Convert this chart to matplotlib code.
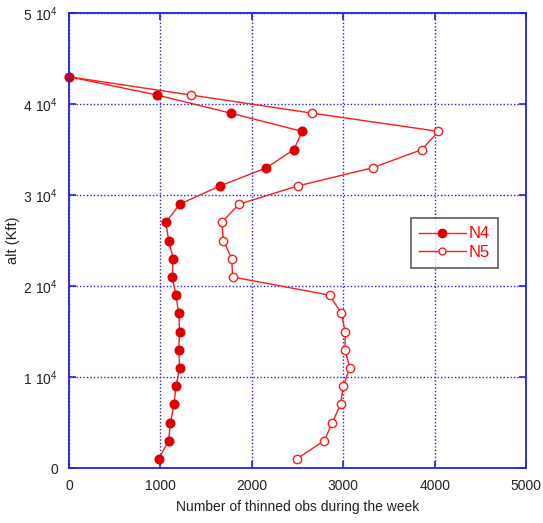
import numpy as np
import matplotlib
matplotlib.use("Agg")
import matplotlib.pyplot as plt

plt.rcParams['font.family'] = ['Liberation Sans', 'DejaVu Sans']
plt.rcParams['mathtext.fontset'] = 'custom'
plt.rcParams['mathtext.rm'] = 'Liberation Sans'

# altitude levels (ft) and weekly counts of thinned obs per level
alt = [1000, 3000, 5000, 7000, 9000, 11000, 13000, 15000, 17000, 19000, 21000,
       23000, 25000, 27000, 29000, 31000, 33000, 35000, 37000, 39000, 41000, 43000]
n4 = [980, 1090, 1110, 1150, 1170, 1210, 1200, 1210, 1200, 1170, 1130,
      1140, 1090, 1060, 1210, 1650, 2160, 2460, 2550, 1770, 960, 0]
n5 = [2490, 2790, 2880, 2970, 3000, 3070, 3020, 3020, 2980, 2850, 1790,
      1780, 1690, 1670, 1860, 2500, 3320, 3860, 4040, 2660, 1330, 0]

xticks = [0, 1000, 2000, 3000, 4000, 5000]
yticks = [0, 10000, 20000, 30000, 40000, 50000]
ylabels = ['0'] + [r'$\mathregular{%d\ 10^4}$' % (v // 10000) for v in yticks[1:]]

blue = '#2424e0'

fig = plt.figure(figsize=(5.43, 5.23), dpi=100)
ax = fig.add_axes([0.127, 0.105, 0.842, 0.870])

ax.plot(n5, alt, color='#ff1a1a', lw=1, marker='o', ms=6,
        mfc='white', mec='#ff1a1a', mew=1, label='N5', clip_on=False, zorder=3)
ax.plot(n4, alt, color='#ff1a1a', lw=1, marker='o', ms=6.2,
        mfc='#dd0000', mec='#dd0000', label='N4', clip_on=False, zorder=4)

ax.set_xlim(0, 5000)
ax.set_ylim(0, 50000)
ax.set_xticks(xticks)
ax.set_yticks(yticks)
ax.set_yticklabels(ylabels)
ax.grid(True, color=blue, ls=(0, (1, 1.5)), lw=1)
for s in ax.spines.values():
    s.set_color(blue)
    s.set_linewidth(1.3)
    s.set_zorder(5)
ax.tick_params(direction='in', color=blue, length=5, width=1.2,
               top=True, right=True, labelsize=10, labelcolor='#222222', pad=8)

ax.set_xlabel('Number of thinned obs during the week', fontsize=10, color='#222222', labelpad=5)
# y label placed by hand near the left edge
fig.text(13 / 543, 0.54, 'alt (Kft)', rotation=90, ha='center', va='center',
         fontsize=10.5, color='#222222')

handles, labels = ax.get_legend_handles_labels()
leg = ax.legend(handles[::-1], labels[::-1], loc='upper left',
                bbox_to_anchor=(0.756, 0.583), bbox_transform=fig.transFigure,
                borderaxespad=0, fontsize=12, frameon=True, fancybox=False,
                handlelength=2.8, borderpad=0.5, labelspacing=0.2, handletextpad=0.2)
leg.get_frame().set_edgecolor('#333333')
leg.get_frame().set_linewidth(1.2)
leg.set_zorder(6)
for t in leg.get_texts():
    t.set_color('red')
for h, size in zip(leg.legend_handles, [6, 5]):
    h.set_markersize(size)

fig.savefig('out.png', dpi=100)
